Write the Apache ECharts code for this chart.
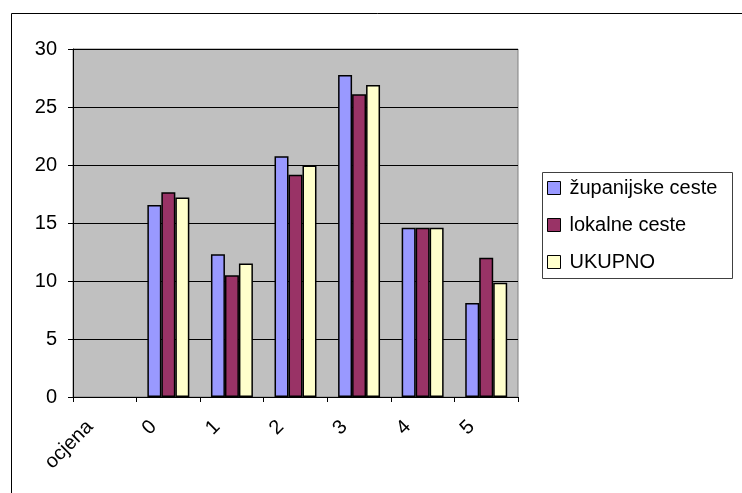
<!DOCTYPE html>
<html>
	<head>
		<meta charset="utf-8" />
		<title></title>
		<script type="text/javascript" src="https://cdn.jsdelivr.net/npm/echarts@6/dist/echarts.min.js"></script>
	</head>
	<body style="margin:0;background:#fff;">
		<div id="chart" style="width: 742px;height:493px;"></div>
	</body>
</html>
<script type="text/javascript">
	var categories = ["ocjena", "0", "1", "2", "3", "4", "5"];
	var zupanijske = ["-", 16.55, 12.3, 20.75, 27.75, 14.6, 8.1];
	var lokalne = ["-", 17.65, 10.5, 19.15, 26.1, 14.6, 12.0];
	var ukupno = ["-", 17.2, 11.5, 19.95, 26.9, 14.6, 9.85];

	var font = "'Liberation Sans', Arial, sans-serif";
	var chart = echarts.init(document.getElementById("chart"));

	function bar(name, data, color) {
		return {
			name: name,
			type: "bar",
			data: data,
			barGap: 0,
			barCategoryGap: "34%",
			itemStyle: {
				color: color,
				borderColor: "#000",
				borderWidth: 1.5
			},
			emphasis: { disabled: true }
		};
	}

	chart.setOption({
		animation: false,
		backgroundColor: "#fff",
		graphic: [{
			// okvir oko cijelog grafa
			type: "rect",
			left: 9,
			top: 11,
			shape: { width: 800, height: 600 },
			style: { fill: "none", stroke: "#000", lineWidth: 1 },
			silent: true
		}, {
			// okvir legende
			type: "rect",
			left: 540,
			top: 170,
			shape: { width: 190, height: 106 },
			style: { fill: "none", stroke: "#404040", lineWidth: 1 },
			silent: true
		}],
		grid: {
			left: 73,
			right: 224,
			top: 49,
			bottom: 96,
			show: true,
			backgroundColor: "#C0C0C0",
			borderColor: "#808080",
			borderWidth: 1
		},
		legend: {
			orient: "vertical",
			left: 540,
			top: 170,
			padding: [8, 4, 6, 7],
			itemGap: 17,
			itemWidth: 13,
			itemHeight: 13,
			icon: "rect",
			selectedMode: false,
			textStyle: { fontFamily: font, fontSize: 20, color: "#000", padding: [0, 0, 0, 4] },
			itemStyle: { borderColor: "#000", borderWidth: 1 },
			data: ["županijske ceste", "lokalne ceste", "UKUPNO"]
		},
		xAxis: {
			type: "category",
			data: categories,
			axisLine: { lineStyle: { color: "#000", width: 1 } },
			axisTick: { show: true, length: 5, lineStyle: { color: "#000" } },
			axisLabel: {
				rotate: 45,
				interval: 0,
				margin: 12,
				padding: [0, 21, 0, 0],
				fontFamily: font,
				fontSize: 20,
				color: "#000"
			}
		},
		yAxis: {
			type: "value",
			min: 0,
			max: 30,
			interval: 5,
			axisLine: { show: true, lineStyle: { color: "#000", width: 1 } },
			axisTick: { show: true, length: 5, lineStyle: { color: "#000" } },
			axisLabel: { margin: 16, fontFamily: font, fontSize: 20, color: "#000" },
			splitLine: { lineStyle: { color: "#000", width: 1 } }
		},
		series: [
			bar("županijske ceste", zupanijske, "#9999FF"),
			bar("lokalne ceste", lokalne, "#993366"),
			bar("UKUPNO", ukupno, "#FFFFCC")
		]
	});
</script>
